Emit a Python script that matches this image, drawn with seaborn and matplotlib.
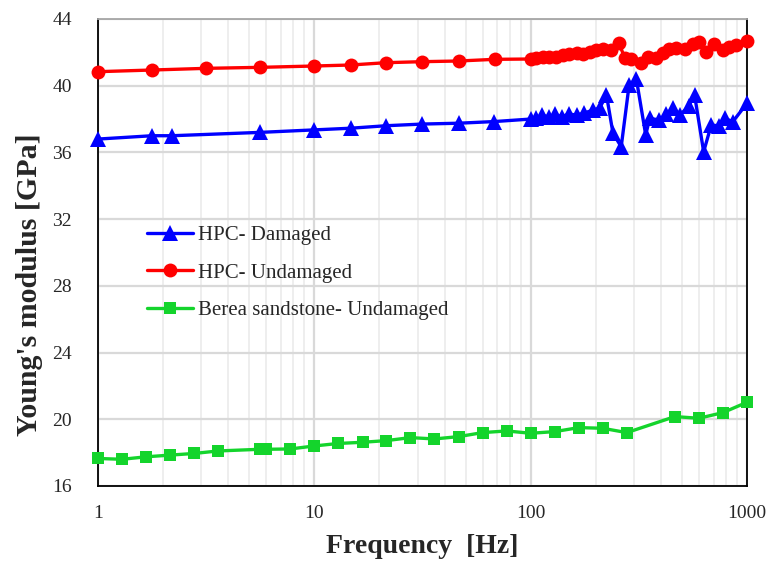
import matplotlib
matplotlib.use("Agg")
import matplotlib.pyplot as plt
import matplotlib.ticker as mticker
import numpy as np
import pandas as pd
import seaborn as sns

# ---------------- data ----------------
damaged_freq = [1, 1.78, 2.2, 5.6, 10, 14.7, 21.5, 31.6, 46.4, 68, 100,
                106, 113, 122, 129, 139, 150, 163, 176, 194, 208, 224, 240, 262,
                285, 308, 340, 355, 392, 424, 454, 491, 538, 572, 630, 683, 741,
                787, 859, 1000]
damaged_E = [36.8, 37.0, 37.0, 37.2, 37.35, 37.45, 37.6, 37.7, 37.75, 37.85, 38.0,
             38.08, 38.24, 38.1, 38.29, 38.14, 38.3, 38.24, 38.35, 38.54, 38.65, 39.44,
             37.15, 36.34, 40.04, 40.38, 37.05, 38.05, 37.94, 38.3, 38.65, 38.24,
             38.8, 39.44, 36.04, 37.64, 37.59, 38.05, 37.84, 38.95]

undamaged_freq = [1, 1.78, 3.16, 5.62, 10, 14.7, 21.5, 31.6, 46.4, 68.1, 100,
                  106, 114, 122, 131, 141, 151, 163, 175, 187, 201, 216, 236, 255,
                  272, 292, 322, 347, 380, 408, 437, 469, 514, 562, 600, 646, 707,
                  773, 829, 890, 1000]
undamaged_E = [40.84, 40.94, 41.04, 41.1, 41.18, 41.24, 41.38, 41.44, 41.48, 41.58, 41.6,
               41.68, 41.74, 41.74, 41.74, 41.84, 41.88, 41.94, 41.88, 42.04, 42.14,
               42.18, 42.14, 42.58, 41.68, 41.58, 41.38, 41.74, 41.68, 41.94, 42.18,
               42.28, 42.18, 42.5, 42.64, 42.04, 42.5, 42.14, 42.34, 42.44, 42.68]

berea_freq = [1, 1.29, 1.67, 2.15, 2.78, 3.59, 5.6, 6.0, 7.74, 10, 12.9, 16.7,
              21.5, 27.8, 35.9, 46.4, 59.9, 77.4, 100, 129, 167, 215, 278, 464,
              599, 774, 1000]
berea_E = [17.65, 17.6, 17.75, 17.85, 17.95, 18.1, 18.2, 18.2, 18.22, 18.4, 18.55,
           18.62, 18.72, 18.9, 18.82, 18.96, 19.2, 19.3, 19.16, 19.26, 19.5, 19.46,
           19.2, 20.16, 20.06, 20.4, 21.02]

series_names = ["HPC- Damaged", "HPC- Undamaged", "Berea sandstone- Undamaged"]
x_tick_vals = [1, 10, 100, 1000]
x_tick_labels = ["1", "10", "100", "1000"]
y_tick_vals = [16, 20, 24, 28, 32, 36, 40, 44]
x_label = "Frequency  [Hz]"
y_label = "Young's modulus [GPa]"

# ---------------- style ----------------
sns.set_style("white")
plt.rcParams["font.family"] = ["Liberation Serif", "DejaVu Serif"]

fig = plt.figure(figsize=(7.67, 5.63), dpi=100)
ax = fig.add_axes([0.1278, 0.1368, 0.8462, 0.8295])

df_d = pd.DataFrame({"f": damaged_freq, "E": damaged_E})
df_u = pd.DataFrame({"f": undamaged_freq, "E": undamaged_E})
df_b = pd.DataFrame({"f": berea_freq, "E": berea_E})

common = dict(x="f", y="E", ax=ax, sort=False, estimator=None, linewidth=2.4,
              markeredgewidth=0, zorder=3, clip_on=False)
sns.lineplot(data=df_d, color="#0000ff", marker="^", markersize=11.5,
             label=series_names[0], **common)
sns.lineplot(data=df_u, color="#ff0000", marker="o", markersize=10,
             label=series_names[1], **common)
sns.lineplot(data=df_b, color="#14d42c", marker="s", markersize=9.3,
             label=series_names[2], **common)

ax.set_xscale("log")
ax.set_xlim(1, 1000)
ax.set_ylim(16, 44)

ax.set_xticks(x_tick_vals)
ax.set_xticklabels(x_tick_labels)
ax.xaxis.set_minor_locator(mticker.LogLocator(base=10, subs=np.arange(2, 10)))
ax.xaxis.set_minor_formatter(mticker.NullFormatter())

ax.set_yticks(y_tick_vals)
ax.yaxis.set_minor_locator(mticker.MultipleLocator(0.8))

ax.tick_params(axis="both", which="major", labelsize=14, direction="inout",
               length=8, width=1.2, color="black")
ax.tick_params(axis="both", which="minor", direction="in", length=5, width=1.0,
               color="black")
ax.tick_params(axis="x", which="major", pad=10)
ax.tick_params(axis="y", which="major", pad=15)

# grid
ax.grid(False)
ax.yaxis.grid(True, which="major", color="#d9d9d9", linewidth=1.6, zorder=0)
ax.xaxis.grid(True, which="major", color="#d9d9d9", linewidth=1.6, zorder=0)
ax.xaxis.grid(True, which="minor", color="#eeeeee", linewidth=1.4, zorder=0)
ax.set_axisbelow(True)

for side in ["left", "bottom", "right"]:
    ax.spines[side].set_color("black")
    ax.spines[side].set_linewidth(1.3)
ax.spines["top"].set_color("#a6a6a6")
ax.spines["top"].set_linewidth(1.3)

ax.set_xlabel(x_label, fontsize=20, fontweight="bold", labelpad=8)
ax.set_ylabel(y_label, fontsize=21.5, fontweight="bold")
ax.yaxis.set_label_coords(-0.085, 0.43)

leg = ax.legend(loc="upper left", bbox_to_anchor=(0.075, 0.557), frameon=False,
                fontsize=15, handlelength=2.2, handletextpad=0.25,
                labelspacing=0.85, borderaxespad=0, borderpad=0)

fig.savefig("out.png", dpi=100)
